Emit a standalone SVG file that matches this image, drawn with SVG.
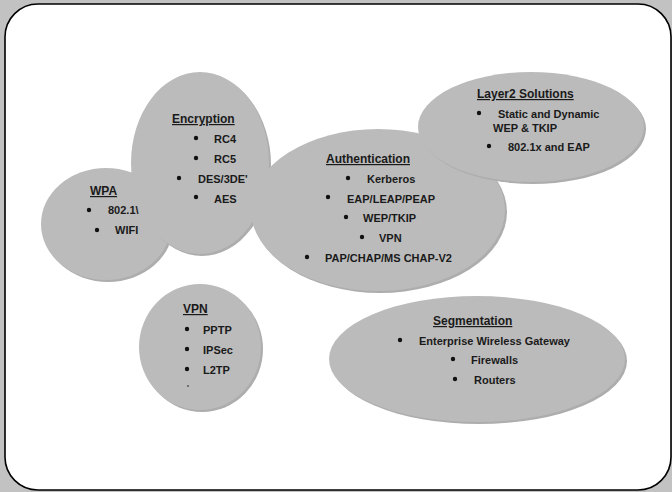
<svg xmlns="http://www.w3.org/2000/svg" width="672" height="492" viewBox="0 0 672 492">
<style>
.bg{fill:#c2c2c2}
.frame{fill:#ffffff;stroke:#000;stroke-width:1.6}
.sh{fill:#adadad}
.blob{fill:#bbbbbb}
text{font-family:"Liberation Sans",Arial,sans-serif;font-weight:bold;fill:#1a1a1a}
.t{font-size:12px;text-decoration:underline}
.i{font-size:11px}
.b{fill:#111}
</style>
<rect class="bg" x="0" y="0" width="672" height="492"/>
<rect class="frame" x="5" y="4" width="666" height="486" rx="33" ry="33"/>
<g id="connectors"/>
<g id="wpa">
<ellipse class="sh" cx="108" cy="226" rx="65" ry="56"/>
<ellipse class="blob" cx="106" cy="224" rx="65" ry="56"/>
</g>
<g id="encryption">
<ellipse class="sh" cx="202" cy="165" rx="69" ry="91"/>
<ellipse class="blob" cx="200" cy="163" rx="69" ry="91"/>
</g>
<g id="authentication">
<ellipse class="sh" cx="380" cy="212" rx="127" ry="81"/>
<ellipse class="blob" cx="378" cy="210" rx="127" ry="81"/>
</g>
<g id="layer2">
<ellipse class="sh" cx="533" cy="129" rx="113" ry="55"/>
<ellipse class="blob" cx="531" cy="127" rx="113" ry="55"/>
</g>
<g id="vpn">
<ellipse class="sh" cx="202" cy="349" rx="61" ry="63"/>
<ellipse class="blob" cx="200" cy="347" rx="61" ry="63"/>
</g>
<g id="segmentation">
<ellipse class="sh" cx="479" cy="361" rx="148" ry="63"/>
<ellipse class="blob" cx="477" cy="359" rx="148" ry="63"/>
</g>
<g id="wpa-text">
<text class="t" x="90" y="195">WPA</text>
<circle class="b" cx="89" cy="210" r="2.2"/><text class="i" x="108" y="214">802.1\</text>
<circle class="b" cx="97" cy="230" r="2.2"/><text class="i" x="115" y="234">WIFI</text>
</g>
<g id="encryption-text">
<text class="t" x="172" y="123">Encryption</text>
<circle class="b" cx="196" cy="138" r="2.2"/><text class="i" x="214" y="143">RC4</text>
<circle class="b" cx="196" cy="158" r="2.2"/><text class="i" x="214" y="163">RC5</text>
<circle class="b" cx="179" cy="178" r="2.2"/><text class="i" x="198" y="183">DES/3DE'</text>
<circle class="b" cx="196" cy="197" r="2.2"/><text class="i" x="214" y="203">AES</text>
</g>
<g id="authentication-text">
<text class="t" x="326" y="163">Authentication</text>
<circle class="b" cx="348" cy="178" r="2.2"/><text class="i" x="367" y="183">Kerberos</text>
<circle class="b" cx="328" cy="197" r="2.2"/><text class="i" x="347" y="203">EAP/LEAP/PEAP</text>
<circle class="b" cx="346" cy="217" r="2.2"/><text class="i" x="363" y="222">WEP/TKIP</text>
<circle class="b" cx="362" cy="237" r="2.2"/><text class="i" x="379" y="242">VPN</text>
<circle class="b" cx="307" cy="257" r="2.2"/><text class="i" x="325" y="262">PAP/CHAP/MS  CHAP-V2</text>
</g>
<g id="layer2-text">
<text class="t" x="477" y="98">Layer2 Solutions</text>
<circle class="b" cx="479" cy="113" r="2.2"/><text class="i" x="498" y="118">Static and Dynamic</text>
<text class="i" x="493" y="132">WEP &amp; TKIP</text>
<circle class="b" cx="489" cy="146" r="2.2"/><text class="i" x="508" y="151">802.1x and EAP</text>
</g>
<g id="vpn-text">
<text class="t" x="183" y="313">VPN</text>
<circle class="b" cx="187" cy="329" r="2.2"/><text class="i" x="203" y="334">PPTP</text>
<circle class="b" cx="187" cy="349" r="2.2"/><text class="i" x="203" y="354">IPSec</text>
<circle class="b" cx="187" cy="369" r="2.2"/><text class="i" x="203" y="374">L2TP</text>
<circle class="b" cx="188" cy="386" r="0.8"/>
</g>
<g id="segmentation-text">
<text class="t" x="433" y="325">Segmentation</text>
<circle class="b" cx="400" cy="340" r="2.2"/><text class="i" x="419" y="345">Enterprise Wireless Gateway</text>
<circle class="b" cx="453" cy="359" r="2.2"/><text class="i" x="471" y="364">Firewalls</text>
<circle class="b" cx="455" cy="379" r="2.2"/><text class="i" x="474" y="384">Routers</text>
</g>
</svg>
